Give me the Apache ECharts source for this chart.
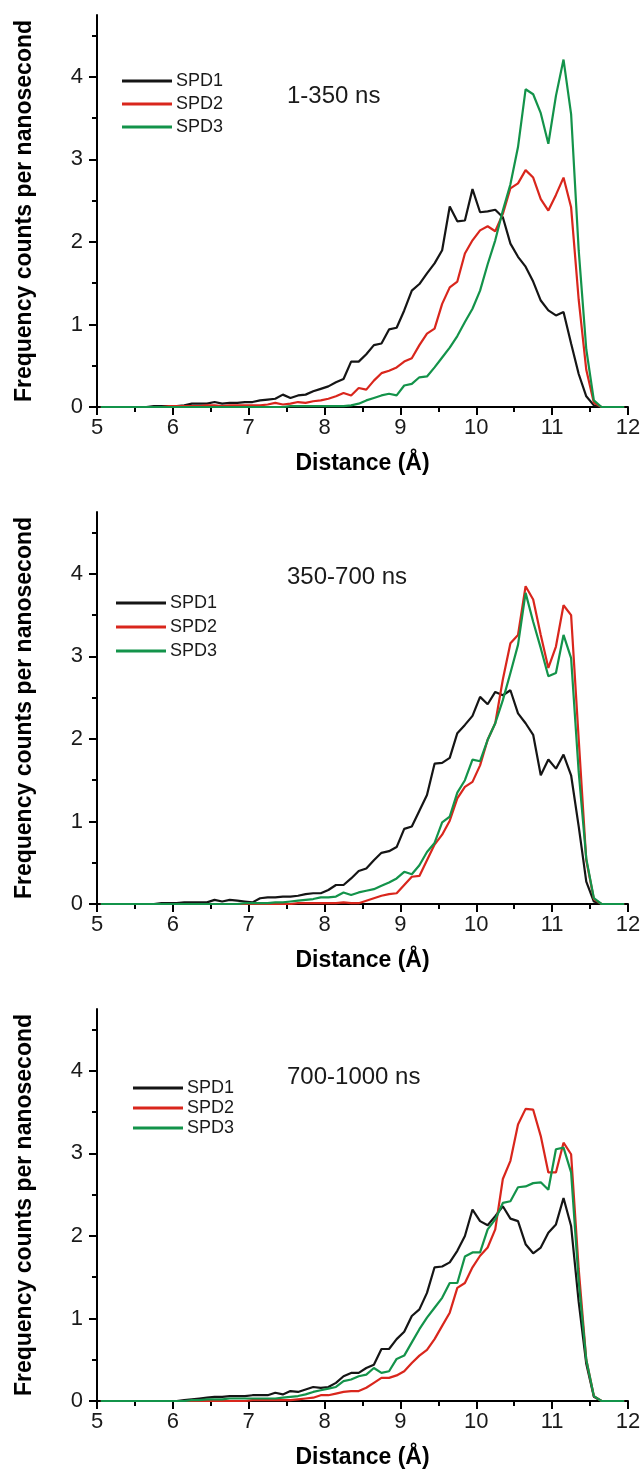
<!DOCTYPE html>
<html>
<head>
<meta charset="utf-8">
<script src="https://cdn.jsdelivr.net/npm/echarts@6/dist/echarts.min.js"></script>
<style>
html,body{margin:0;padding:0;background:#ffffff;}
#chart{width:644px;height:1475px;}
</style>
</head>
<body>
<div id="chart"></div>
<script>
// ---------------- DATA ----------------
// bin centres (Å)
const distance = [
  5.05,5.15,5.25,5.35,5.45,5.55,5.65,5.75,5.85,5.95,
  6.05,6.15,6.25,6.35,6.45,6.55,6.65,6.75,6.85,6.95,
  7.05,7.15,7.25,7.35,7.45,7.55,7.65,7.75,7.85,7.95,
  8.05,8.15,8.25,8.35,8.45,8.55,8.65,8.75,8.85,8.95,
  9.05,9.15,9.25,9.35,9.45,9.55,9.65,9.75,9.85,9.95,
  10.05,10.15,10.25,10.35,10.45,10.55,10.65,10.75,10.85,10.95,
  11.05,11.15,11.25,11.35,11.45,11.55,11.65,11.75,11.85,11.95
];

const seriesNames = ['SPD1', 'SPD2', 'SPD3'];
const panelLabels = ['1-350 ns', '350-700 ns', '700-1000 ns'];
const xTickValues = [5, 6, 7, 8, 9, 10, 11, 12];
const yTickValues = [0, 1, 2, 3, 4];
const yMinorTickValues = [0.5, 1.5, 2.5, 3.5, 4.5];

// Panel 1: 1-350 ns
const spd1_p1 = [
  0,0,0,0,0,0,0,0.01,0.01,0.01,
  0.01,0.02,0.04,0.04,0.04,0.06,0.04,0.05,0.05,0.06,
  0.06,0.08,0.09,0.10,0.15,0.11,0.14,0.15,0.19,0.22,
  0.25,0.30,0.34,0.55,0.55,0.64,0.75,0.77,0.94,0.96,
  1.17,1.41,1.49,1.62,1.74,1.90,2.43,2.25,2.26,2.64,
  2.36,2.37,2.39,2.30,1.98,1.82,1.70,1.52,1.29,1.17,
  1.11,1.15,0.77,0.40,0.13,0.02,0,0,0,0
];
const spd2_p1 = [
  0,0,0,0,0,0,0,0,0,0.01,
  0.01,0.01,0.01,0.01,0.02,0.02,0.01,0.02,0.02,0.02,
  0.02,0.02,0.03,0.05,0.03,0.04,0.06,0.05,0.07,0.08,
  0.10,0.13,0.17,0.14,0.23,0.21,0.32,0.41,0.44,0.48,
  0.55,0.59,0.75,0.89,0.95,1.25,1.45,1.52,1.86,2.02,
  2.14,2.19,2.13,2.34,2.65,2.71,2.87,2.78,2.52,2.38,
  2.57,2.78,2.42,1.30,0.45,0.05,0,0,0,0
];
const spd3_p1 = [
  0,0,0,0,0,0,0,0,0,0,
  0,0,0,0,0,0,0,0,0,0,
  0,0,0,0,0,0.01,0.01,0.01,0.01,0.01,
  0.01,0.01,0.01,0.02,0.04,0.08,0.11,0.14,0.16,0.14,
  0.26,0.28,0.36,0.37,0.48,0.60,0.72,0.86,1.03,1.19,
  1.41,1.73,2.02,2.38,2.70,3.15,3.85,3.79,3.56,3.19,
  3.77,4.21,3.55,1.90,0.70,0.08,0,0,0,0
];

// Panel 2: 350-700 ns
const spd1_p2 = [
  0,0,0,0,0,0,0,0,0.01,0.01,
  0.01,0.02,0.02,0.02,0.02,0.05,0.03,0.05,0.04,0.03,
  0.02,0.07,0.08,0.08,0.09,0.09,0.10,0.12,0.13,0.13,
  0.17,0.23,0.23,0.31,0.40,0.43,0.53,0.62,0.64,0.69,
  0.91,0.94,1.13,1.32,1.70,1.71,1.77,2.07,2.17,2.28,
  2.51,2.42,2.57,2.53,2.59,2.31,2.19,2.05,1.56,1.75,
  1.64,1.81,1.56,0.94,0.27,0.03,0,0,0,0
];
const spd2_p2 = [
  0,0,0,0,0,0,0,0,0,0,
  0,0,0,0,0,0,0,0,0,0,
  0,0,0,0,0,0,0.01,0.01,0.01,0.01,
  0.01,0.01,0.02,0.01,0.01,0.04,0.07,0.10,0.12,0.13,
  0.23,0.33,0.34,0.53,0.72,0.84,1.01,1.28,1.42,1.48,
  1.68,1.99,2.19,2.72,3.16,3.26,3.85,3.69,3.26,2.86,
  3.12,3.62,3.50,2.00,0.53,0.06,0,0,0,0
];
const spd3_p2 = [
  0,0,0,0,0,0,0,0,0,0,
  0,0,0,0,0,0,0,0,0,0.01,
  0.01,0.01,0.01,0.02,0.02,0.03,0.04,0.05,0.06,0.08,
  0.08,0.09,0.14,0.11,0.14,0.16,0.18,0.22,0.26,0.31,
  0.39,0.36,0.47,0.63,0.74,0.99,1.06,1.35,1.50,1.75,
  1.73,1.99,2.19,2.47,2.80,3.14,3.77,3.42,3.10,2.76,
  2.80,3.26,2.98,1.60,0.55,0.07,0,0,0,0
];

// Panel 3: 700-1000 ns
const spd1_p3 = [
  0,0,0,0,0,0,0,0,0,0,
  0,0.01,0.02,0.03,0.04,0.05,0.05,0.06,0.06,0.06,
  0.07,0.07,0.07,0.10,0.08,0.12,0.11,0.14,0.17,0.16,
  0.17,0.22,0.30,0.34,0.34,0.40,0.44,0.63,0.63,0.75,
  0.84,1.03,1.11,1.31,1.62,1.63,1.68,1.82,2.00,2.32,
  2.18,2.13,2.24,2.36,2.21,2.18,1.90,1.79,1.86,2.04,
  2.14,2.46,2.12,1.20,0.45,0.05,0,0,0,0
];
const spd2_p3 = [
  0,0,0,0,0,0,0,0,0,0,
  0,0,0,0,0,0,0,0,0,0,
  0.01,0.01,0.01,0.01,0.01,0.01,0.02,0.03,0.04,0.07,
  0.07,0.09,0.11,0.12,0.12,0.16,0.22,0.28,0.28,0.31,
  0.36,0.46,0.55,0.62,0.75,0.91,1.07,1.37,1.43,1.62,
  1.76,1.86,2.08,2.69,2.91,3.35,3.54,3.53,3.21,2.77,
  2.77,3.13,2.99,1.60,0.50,0.06,0,0,0,0
];
const spd3_p3 = [
  0,0,0,0,0,0,0,0,0,0,
  0,0,0.01,0.01,0.02,0.02,0.02,0.03,0.03,0.03,
  0.03,0.03,0.03,0.03,0.04,0.05,0.06,0.08,0.11,0.13,
  0.15,0.17,0.24,0.26,0.30,0.32,0.40,0.34,0.36,0.51,
  0.55,0.71,0.87,1.01,1.13,1.25,1.43,1.43,1.75,1.80,
  1.80,2.08,2.20,2.40,2.42,2.59,2.60,2.64,2.65,2.56,
  3.05,3.07,2.77,1.45,0.50,0.06,0,0,0,0
];

const panelData = [
  [spd1_p1, spd2_p1, spd3_p1],
  [spd1_p2, spd2_p2, spd3_p2],
  [spd1_p3, spd2_p3, spd3_p3]
];

// ---------------- STYLE / LAYOUT ----------------
const FONT = "'Liberation Sans', Arial, Helvetica, sans-serif";
const COLORS = ['#151515', '#d9261c', '#13934a'];
const gridTops = [15, 512, 1009];
const GRID_H = 392;
const legendPos = [
  {left: 122, top: 72, gap: 5},
  {left: 116, top: 594, gap: 6},
  {left: 133, top: 1079, gap: 2}
];
const titlePos = [
  {left: 287, top: 84},
  {left: 287, top: 565},
  {left: 287, top: 1065}
];

const grids = [], xAxes = [], yAxes = [], series = [], titles = [], legends = [];
const axisColor = '#000';

panelData.forEach((sets, k) => {
  grids.push({left: 97, right: 16, top: gridTops[k], height: GRID_H, containLabel: false});
  xAxes.push({
    type: 'value', gridIndex: k, min: 5, max: 12, interval: 1,
    axisLine: {show: true, onZero: false, lineStyle: {color: axisColor, width: 2}},
    axisTick: {show: true, inside: false, length: 8, customValues: xTickValues, lineStyle: {color: axisColor, width: 2}},
    minorTick: {show: true, splitNumber: 2, length: 5, lineStyle: {color: axisColor, width: 2}},
    splitLine: {show: false},
    axisLabel: {show: true, customValues: xTickValues, fontSize: 22, color: '#1a1a1a', fontFamily: FONT, margin: 10},
    name: 'Distance (Å)', nameLocation: 'middle', nameGap: 45,
    nameTextStyle: {fontSize: 23, fontWeight: 'bold', fontFamily: FONT, color: '#000'}
  });
  yAxes.push({
    type: 'value', gridIndex: k, min: 0, max: 4.75, interval: 1, position: 'left',
    axisLine: {show: true, onZero: false, lineStyle: {color: axisColor, width: 2}},
    axisTick: {show: true, inside: false, length: 8, customValues: yTickValues, lineStyle: {color: axisColor, width: 2}},
    splitLine: {show: false},
    axisLabel: {show: true, customValues: yTickValues, fontSize: 22, color: '#1a1a1a', fontFamily: FONT, margin: 14},
    name: 'Frequency counts per nanosecond', nameLocation: 'middle', nameGap: 61, nameRotate: 90,
    nameTextStyle: {fontSize: 23, fontWeight: 'bold', fontFamily: FONT, color: '#000'}
  });
  yAxes.push({
    type: 'value', gridIndex: k, min: 0, max: 4.75, interval: 1, position: 'left',
    axisLine: {show: false},
    axisTick: {show: true, inside: false, length: 5, customValues: yMinorTickValues, lineStyle: {color: axisColor, width: 2}},
    splitLine: {show: false},
    axisLabel: {show: false}
  });
  sets.forEach((vals, s) => {
    series.push({
      type: 'line', name: seriesNames[s], xAxisIndex: k, yAxisIndex: 2 * k,
      data: distance.map((d, i) => [d, vals[i]]),
      symbol: 'none', showSymbol: false, smooth: false, animation: false,
      lineStyle: {color: COLORS[s], width: 2.2},
      itemStyle: {color: COLORS[s]},
      z: 3 + s
    });
  });
  titles.push({
    text: panelLabels[k], left: titlePos[k].left, top: titlePos[k].top, padding: 0,
    textStyle: {fontSize: 24, fontWeight: 'normal', color: '#1a1a1a', fontFamily: FONT}
  });
  legends.push({
    orient: 'vertical', left: legendPos[k].left, top: legendPos[k].top, padding: 0,
    itemGap: legendPos[k].gap, itemWidth: 50, itemHeight: 3, icon: 'rect',
    selectedMode: false, data: seriesNames,
    textStyle: {fontSize: 18, lineHeight: 18, color: '#1a1a1a', fontFamily: FONT, padding: [0, 0, 0, -1]}
  });
});

const chart = echarts.init(document.getElementById('chart'), null, {renderer: 'canvas'});
chart.setOption({
  animation: false,
  backgroundColor: '#ffffff',
  title: titles,
  legend: legends,
  grid: grids,
  xAxis: xAxes,
  yAxis: yAxes,
  series: series
});
</script>
</body>
</html>
